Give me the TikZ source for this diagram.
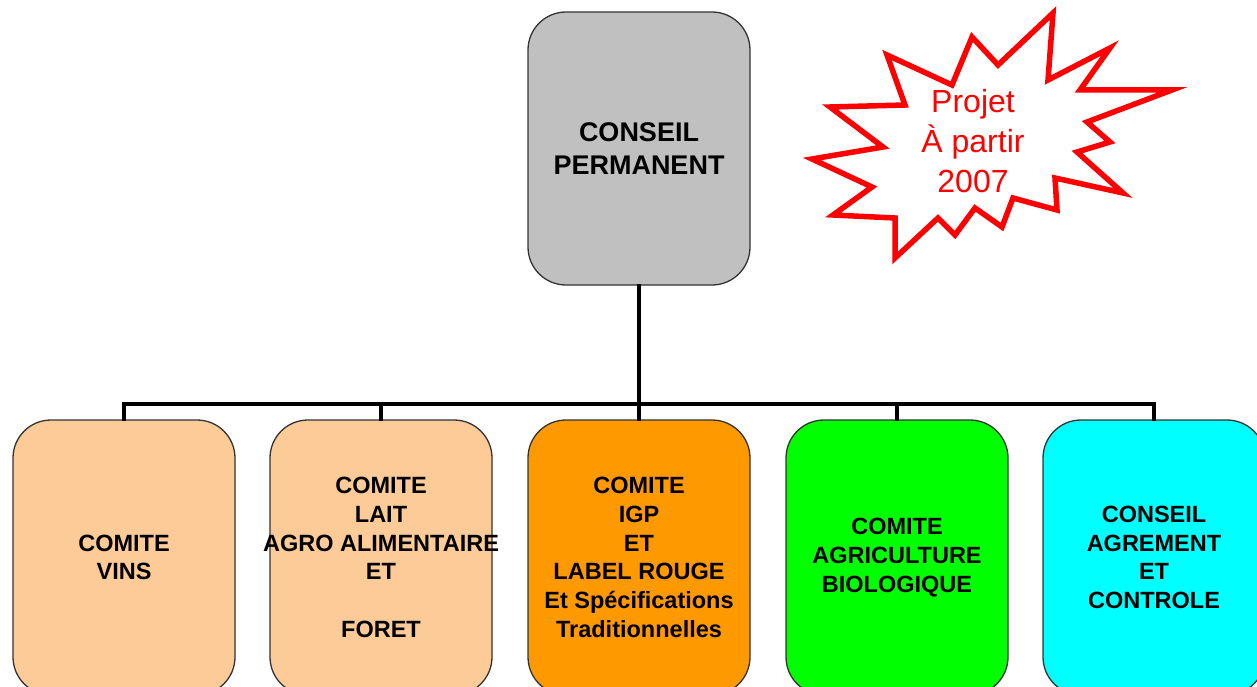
\documentclass[tikz,border=0pt]{standalone}
\usepackage{fontspec}
\setmainfont{Liberation Sans}
\begin{document}
\begin{tikzpicture}[x=1pt,y=-1pt,
  box/.style={draw=black!80, line width=1.3pt, rounded corners=38pt,
    minimum width=222pt, minimum height=275pt, inner sep=0pt,
    align=center, font=\fontsize{23.5}{28.7}\selectfont\bfseries},
  link/.style={line width=4pt, line cap=rect},
  burst/.style={draw=red, line width=5.5pt, line join=miter, fill=white}]
\useasboundingbox (0,0) rectangle (1257,687);
\clip (0,0) rectangle (1257,687);
\fill[white] (0,0) rectangle (1257,687);

% head of the chart
\node[box, fill={rgb,255:red,192;green,192;blue,192}, minimum height=273pt,
  font=\fontsize{27}{33}\selectfont\bfseries] (cp) at (639,148.5)
  {CONSEIL\\PERMANENT};

% committees
\node[box, fill={rgb,255:red,252;green,203;blue,152}] (vins) at (124,557.5)
  {COMITE\\VINS};
\node[box, fill={rgb,255:red,252;green,203;blue,152}] (lait) at (381,557.5)
  {COMITE\\LAIT\\\makebox[200pt][c]{AGRO ALIMENTAIRE}\\ET\\[28.7pt]FORET};
\node[box, fill={rgb,255:red,255;green,153;blue,0}] (igp) at (639,557.5)
  {COMITE\\IGP\\ET\\LABEL ROUGE\\Et Spécifications\\Traditionnelles};
\node[box, fill={rgb,255:red,0;green,255;blue,0}] (bio) at (897,557.5)
  {COMITE\\AGRICULTURE\\BIOLOGIQUE};
\node[box, fill={rgb,255:red,0;green,255;blue,255}] (agr) at (1154,557.5)
  {CONSEIL\\AGREMENT\\ET\\CONTROLE};

% tree connectors
\coordinate (bar) at (639,403.5);
\draw[link] (cp.south) -- (bar);
\draw[link] (vins.north) -- (vins.north |- bar) -- (agr.north |- bar) -- (agr.north);
\draw[link] (lait.north) -- (lait.north |- bar);
\draw[link] (igp.north) -- (igp.north |- bar);
\draw[link] (bio.north) -- (bio.north |- bar);

% starburst note
\draw[burst] (887,55) -- (952,85) -- (972,37) -- (998,65) -- (1053,13)
  -- (1048,80) -- (1110,48) -- (1080,90) -- (1172,90) -- (1087,122)
  -- (1110,142) -- (1077,152) -- (1123,193) -- (1055,178) -- (1057,210)
  -- (1013,198) -- (1002,227) -- (975,208) -- (955,235) -- (938,218)
  -- (895,258) -- (895,218) -- (833,215) -- (872,187) -- (812,159)
  -- (883,147) -- (830,107) -- (905,105) -- cycle;
\node[text=red, align=center, font=\fontsize{32}{40}\selectfont, inner sep=0pt]
  (proj) at (973,141) {Projet\\À partir\\2007};
\end{tikzpicture}
\end{document}
